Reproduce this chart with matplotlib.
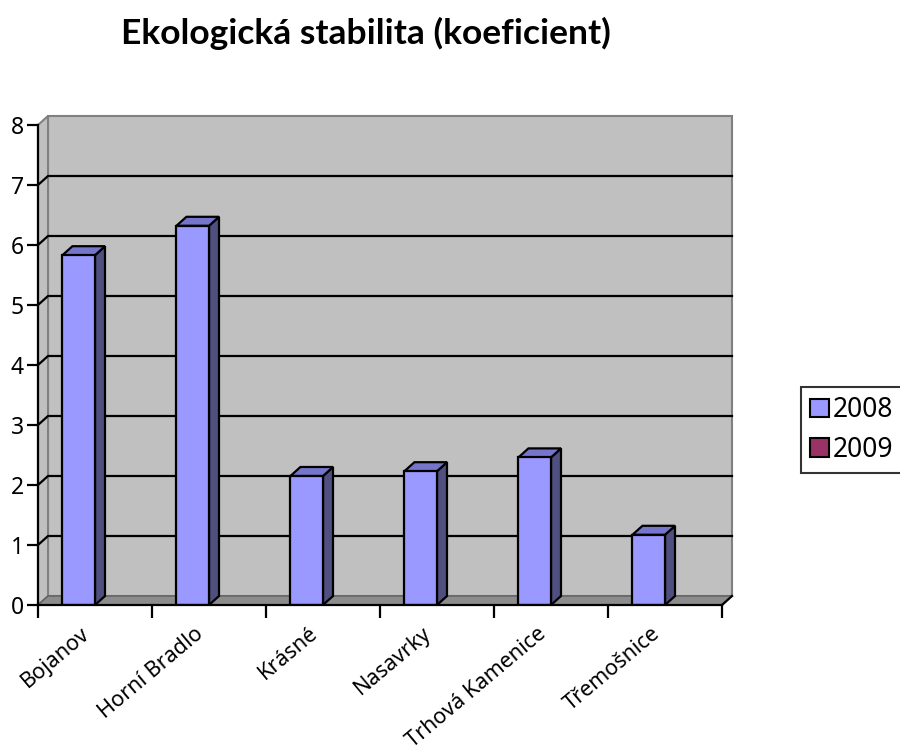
import matplotlib.pyplot as plt
from matplotlib.patches import Rectangle, Polygon, Patch

plt.rcParams['font.family'] = ['Noto Sans', 'DejaVu Sans']

categories = ['Bojanov', 'Horní Bradlo', 'Krásné', 'Nasavrky', 'Trhová Kamenice', 'Třemošnice']
values_2008 = [5.83, 6.32, 2.15, 2.23, 2.46, 1.17]
values_2009 = [0, 0, 0, 0, 0, 0]
series_names = ['2008', '2009']
y_ticks = [0, 1, 2, 3, 4, 5, 6, 7, 8]

FRONT = '#9999ff'
TOP = '#7575cc'
SIDE = '#4f4f80'
WALL = '#c0c0c0'
FLOOR = '#8c8c8c'

W, H = 900, 751
fig = plt.figure(figsize=(W / 100, H / 100), dpi=100)
# front plane of the 3d box in pixels
left_px, right_px, top_px, bot_px = 38, 722, 125, 605
ax = fig.add_axes([left_px / W, 1 - bot_px / H, (right_px - left_px) / W, (bot_px - top_px) / H])
n = len(categories)
ymax = y_ticks[-1]
ax.set_xlim(0, n)
ax.set_ylim(0, ymax)
ax.patch.set_visible(False)

# depth offset (pixels -> data units)
dx = 10 / ((right_px - left_px) / n)
dy = 9 / ((bot_px - top_px) / ymax)

# walls and floor
ax.add_patch(Rectangle((dx, dy), n, ymax, facecolor=WALL, edgecolor='#808080', lw=1.5, zorder=0, clip_on=False))
ax.add_patch(Polygon([(0, 0), (0, ymax), (dx, ymax + dy), (dx, dy)], closed=True,
                     facecolor=WALL, edgecolor='#808080', lw=1.5, zorder=0, clip_on=False))
ax.add_patch(Polygon([(0, 0), (n, 0), (n + dx, dy), (dx, dy)], closed=True,
                     facecolor=FLOOR, edgecolor='#606060', lw=1, zorder=0.5, clip_on=False))

# gridlines on the walls
for y in y_ticks[1:-1]:
    ax.plot([0, dx, n + dx], [y, y + dy, y + dy], color='black', lw=1.6, zorder=1, clip_on=False)

# bars (2009 series is empty, so only 2008 shows; gap width 150%)
gap = 1.5
bw = 1 / (2 + gap)
for i, v in enumerate(values_2008):
    x0 = i + gap * bw / 2
    x1 = x0 + bw
    ax.bar(x0, v, width=bw, align='edge', color=FRONT, edgecolor='black', lw=1.6, zorder=3)
    ax.add_patch(Polygon([(x1, 0), (x1, v), (x1 + dx, v + dy), (x1 + dx, dy)], closed=True,
                         facecolor=SIDE, edgecolor='black', lw=1.6, zorder=2.5, clip_on=False))
    ax.add_patch(Polygon([(x0, v), (x1, v), (x1 + dx, v + dy), (x0 + dx, v + dy)], closed=True,
                         facecolor=TOP, edgecolor='black', lw=1.6, zorder=2.5, clip_on=False))

# axes
for s in ['top', 'right']:
    ax.spines[s].set_visible(False)
for s in ['left', 'bottom']:
    ax.spines[s].set_linewidth(1.6)
    ax.spines[s].set_zorder(4)
ax.plot([n, n + dx], [0, dy], color='black', lw=1.6, zorder=4, clip_on=False)

ax.set_yticks(y_ticks)
ax.set_yticklabels([str(t) for t in y_ticks], fontsize=16.5)
ax.tick_params(axis='y', direction='out', length=8, width=1.6, pad=2)
ax.set_xticks(range(n + 1))
ax.set_xticklabels([])
ax.tick_params(axis='x', which='major', direction='out', length=9, width=1.6)
ax.set_xticks([i + 0.37 for i in range(n)], minor=True)
ax.set_xticklabels(categories, minor=True, rotation=40, ha='right', rotation_mode='anchor', fontsize=15.5)
ax.tick_params(axis='x', which='minor', length=0, pad=13)

fig.text(366 / W, 1 - 33 / H, 'Ekologická stabilita (koeficient)', ha='center', va='center',
         fontsize=25.5, fontweight='bold', family='Lato')

handles = [Patch(facecolor=FRONT, edgecolor='black', lw=1.5),
           Patch(facecolor='#993366', edgecolor='black', lw=1.5)]
leg = fig.legend(handles, series_names, loc='upper left', bbox_to_anchor=(801 / W, 1 - 387 / H),
                 fontsize=19, frameon=True, fancybox=False, handlelength=0.72, handleheight=0.72,
                 handletextpad=0.15, borderpad=0.35, labelspacing=0.45, borderaxespad=0)
leg.get_frame().set_edgecolor('black')
leg.get_frame().set_linewidth(1.5)

fig.savefig('out.png', dpi=100)
